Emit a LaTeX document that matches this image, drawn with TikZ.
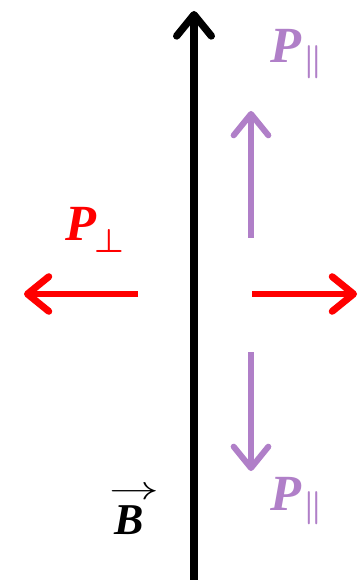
\documentclass[tikz,border=0pt]{standalone}
\usepackage{fontspec}
\usepackage{graphicx}
\setmainfont{Liberation Serif}
\usetikzlibrary{arrows.meta}
\definecolor{purp}{HTML}{B07FC8}
\definecolor{redc}{HTML}{FF0000}
\tikzset{
  barb/.style={-{Straight Barb[round,length=16pt,width=26pt]}},
  field/.style={line width=5.5pt, black, barb},
  para/.style={line width=4.5pt, purp, barb},
  perp/.style={line width=5.2pt, redc, barb},
  lbl/.style={inner sep=0pt, font=\fontsize{38}{40}\selectfont\bfseries\itshape},
  sub/.style={inner sep=0pt, font=\fontsize{36}{38}\selectfont\boldmath}
}
\begin{document}
\begin{tikzpicture}[x=0.75pt,y=-0.75pt]
\useasboundingbox (0,0) rectangle (359,580);
% field line
\coordinate (fb) at (194,582);
\coordinate (ft) at (194,11);
\draw[field] (fb) -- (ft);
% parallel arrows
\coordinate (pu0) at (251,238);
\coordinate (pu1) at (251,111);
\coordinate (pd0) at (251,352);
\coordinate (pd1) at (251,471);
\draw[para] (pu0) -- (pu1);
\draw[para] (pd0) -- (pd1);
% perpendicular arrows
\coordinate (rl0) at (138,294);
\coordinate (rl1) at (24,294);
\coordinate (rr0) at (252,294);
\coordinate (rr1) at (357,294);
\draw[perp] (rl0) -- (rl1);
\draw[perp] (rr0) -- (rr1);
% labels
\node[lbl, text=purp] (pt) at (286,46) {P};
\node[sub, text=purp] (pts) at (313,62) {$\parallel$};
\node[lbl, text=purp] (pb) at (286,494) {P};
\node[sub, text=purp] (pbs) at (313,508) {$\parallel$};
\node[lbl, text=redc] (pl) at (81,224) {P};
\node[sub, text=redc, font=\fontsize{30}{32}\selectfont\boldmath] (pls) at (109,241) {$\perp$};
\node[inner sep=0pt, font=\fontsize{30}{30}\selectfont] (barr) at (134.5,493) {\scalebox{1.5}[1]{$\rightarrow$}};
\node[inner sep=0pt, font=\fontsize{33}{35}\selectfont\bfseries\itshape] (bv) at (129,520) {B};
\end{tikzpicture}
\end{document}
